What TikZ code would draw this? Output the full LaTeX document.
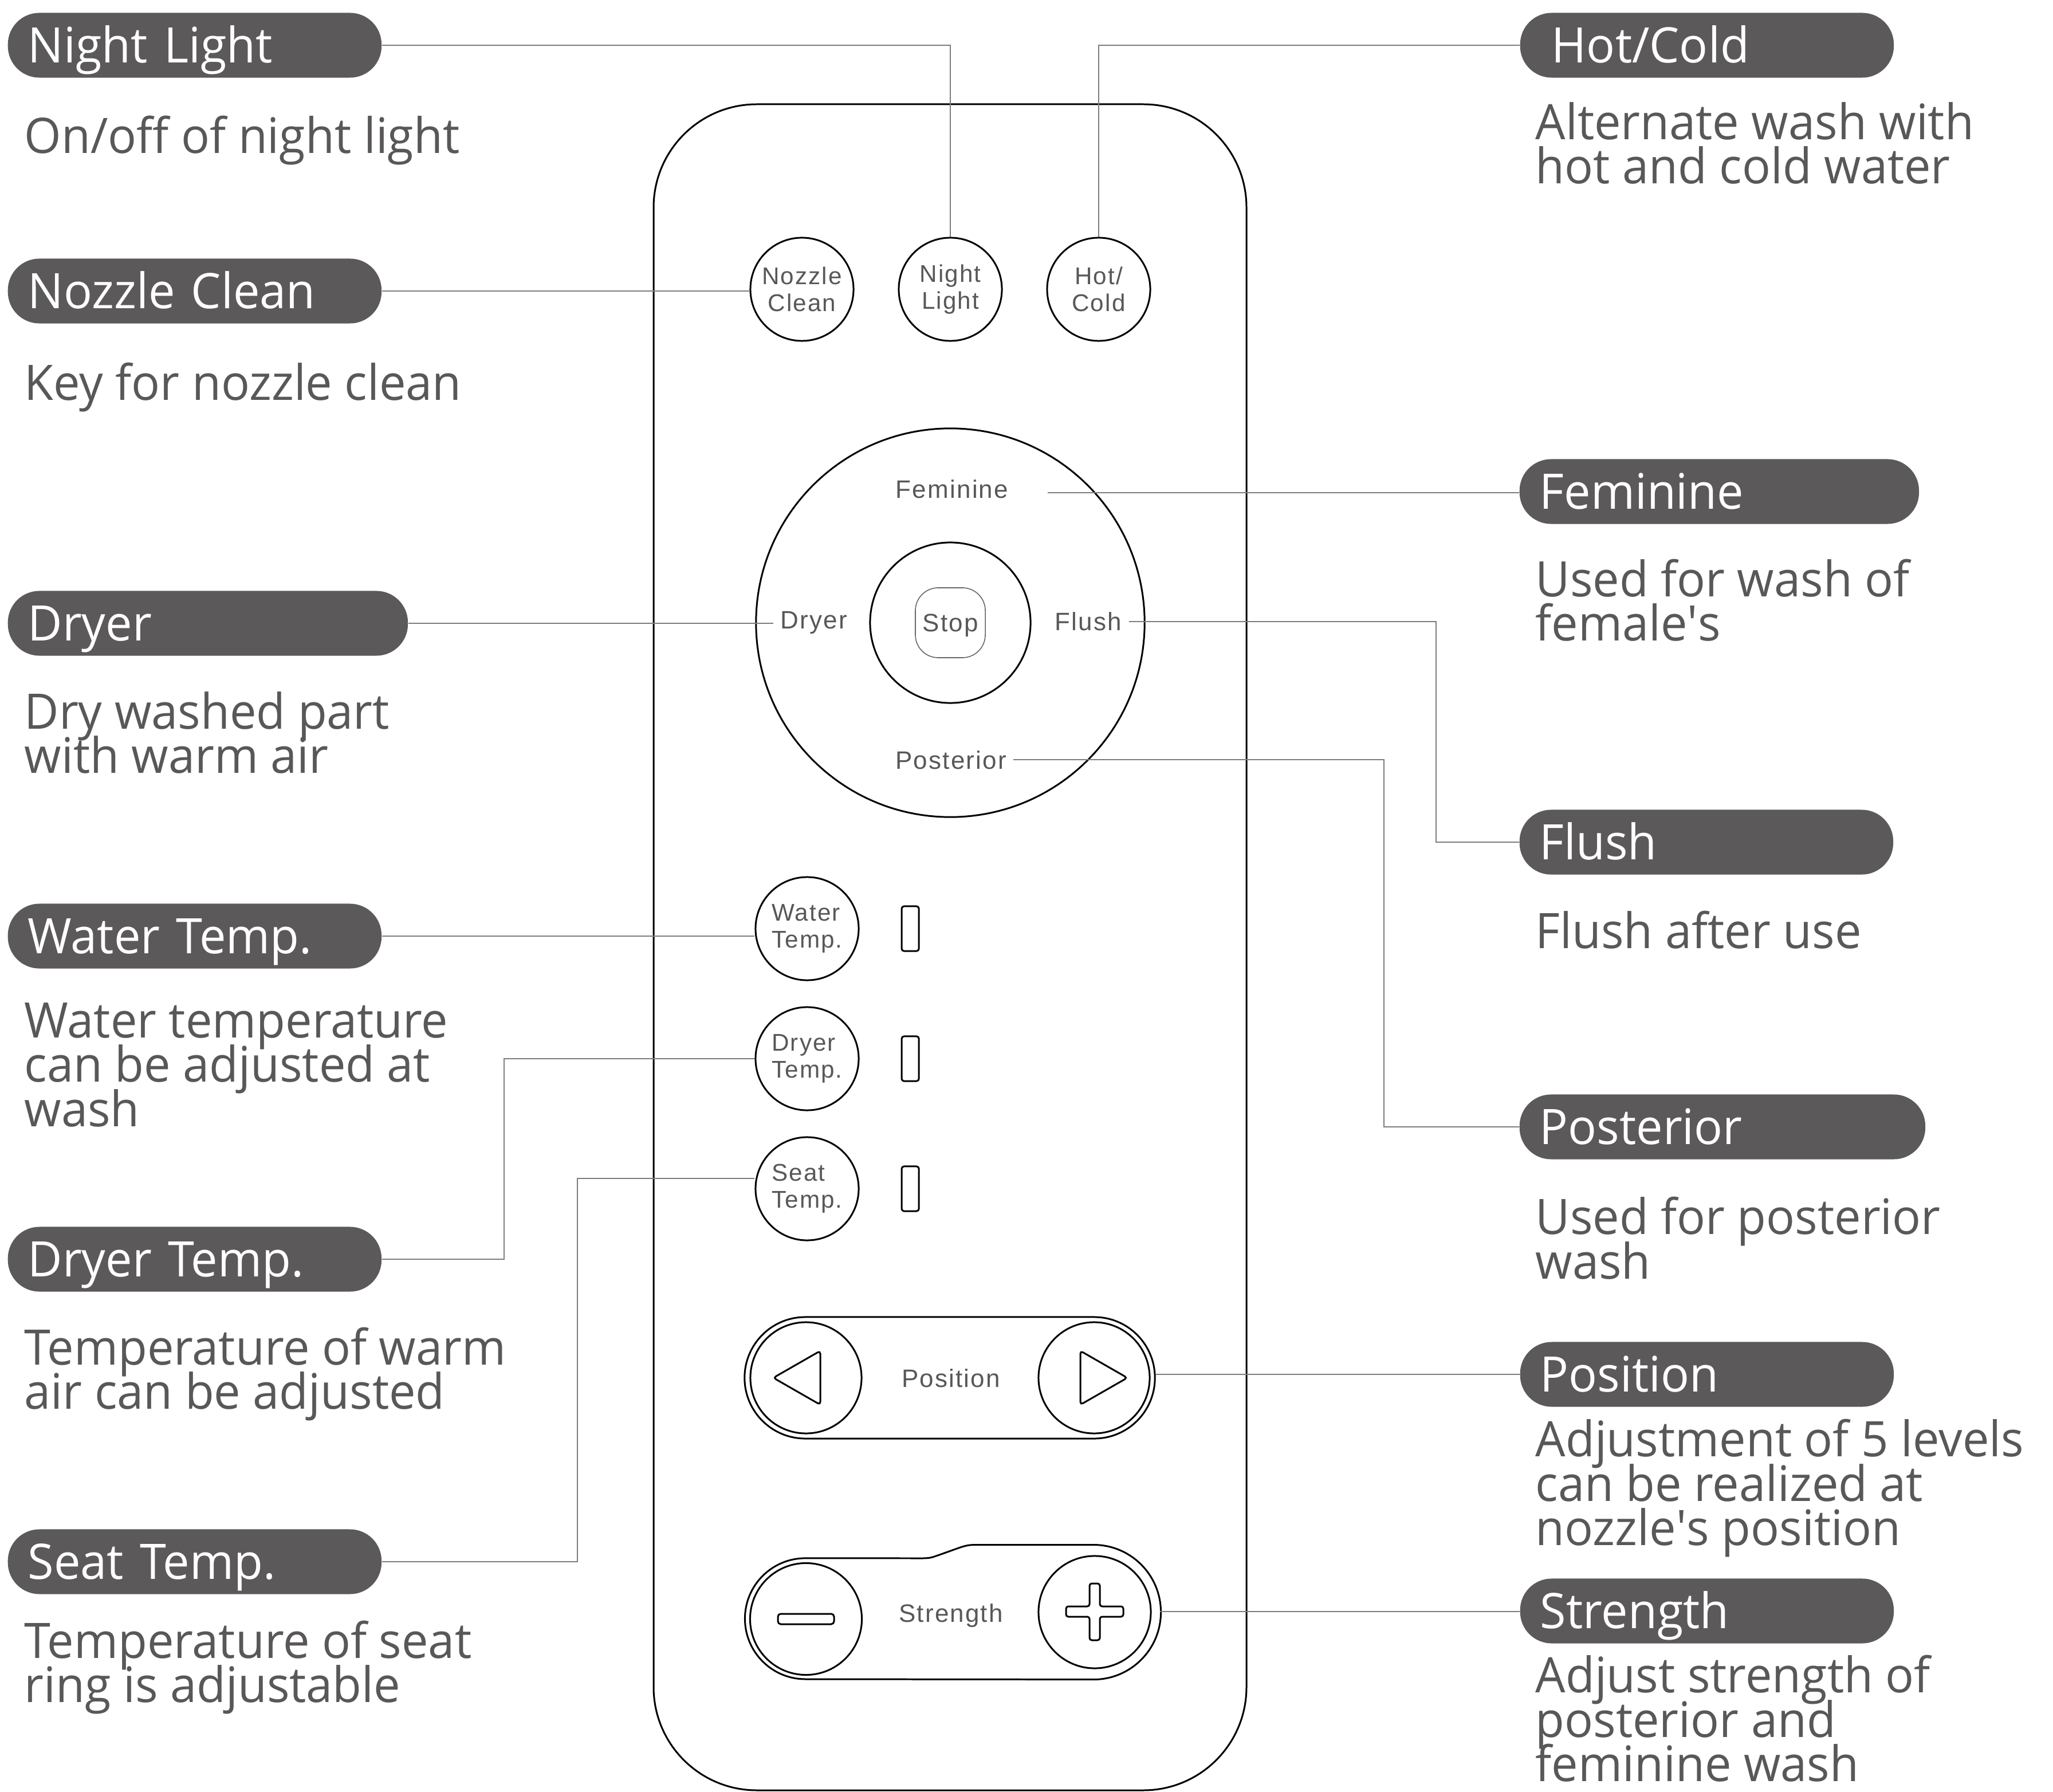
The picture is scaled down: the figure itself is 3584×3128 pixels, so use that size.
\documentclass[tikz,border=0pt]{standalone}
\usepackage{fontspec}
\setmainfont{Open Sans}
\newfontfamily\calloutfont[FakeStretch=0.97]{Open Sans}
\newfontfamily\keyfont[LetterSpace=5]{Liberation Sans}
\newcommand\descfont{\calloutfont\fontsize{24.3}{21.9}\selectfont\lineskiplimit=-50pt\relax}
\usetikzlibrary{positioning}
\definecolor{tagfill}{RGB}{91,89,90}
\definecolor{txtgray}{RGB}{89,87,87}
\definecolor{wiregray}{RGB}{125,125,125}

\tikzset{
  tag/.style={fill=tagfill, text=white, rounded corners=0.55cm, minimum height=1.13cm,
    inner xsep=0.35cm, inner ysep=0pt, text width=#1, align=left, anchor=west,
    font=\calloutfont\fontsize{24.3}{26}\selectfont, text height=0.61cm, text depth=0pt},
  tag/.default=5.82cm,
  desc/.style={anchor=base west, align=left, inner sep=0pt, text=txtgray, font=\descfont},
  key/.style={circle, draw, line width=0.85pt, minimum size=1.8cm, inner sep=0pt,
    text=txtgray, align=center, font=\keyfont\fontsize{12}{13.3}\selectfont},
  keylabel/.style={anchor=base, inner xsep=0.12cm, inner ysep=0pt, text=txtgray,
    text height=0.315cm, text depth=0pt, font=\keyfont\fontsize{12.5}{14}\selectfont},
  wire/.style={draw=wiregray, line width=0.55pt},
  outline/.style={draw, line width=0.85pt},
  led/.style={draw, line width=0.85pt, rounded corners=0.04cm, minimum width=0.3cm,
    minimum height=0.78cm, inner sep=0pt},
}

\begin{document}
\begin{tikzpicture}[x=0.01cm, y=-0.01cm]
  \fill[white] (0,0) rectangle (3584,3128);

  % remote body
  \draw[outline, rounded corners=1.8cm] (1141,182) rectangle (2176,3125);

  % top keys
  \node[key] (bNozzle) at (1400,505) {Nozzle\\Clean};
  \node[key] (bNight) at (1659,505) {Night\\Light};
  \node[key] (bHot) at (1918,505) {Hot/\\Cold};

  % wash ring
  \node[circle, outline, minimum size=6.78cm] (ring) at (1659,1087) {};
  \node[circle, outline, minimum size=2.8cm] (hub) at (1659,1087) {};
  \node[draw=black!60, line width=0.45pt, rounded corners=0.4cm, minimum size=1.22cm,
    inner sep=0pt, text=txtgray, text height=0.315cm, text depth=0pt,
    font=\keyfont\fontsize{12.5}{14}\selectfont] (bStop) at (1659,1087) {Stop};
  \node[keylabel] (lFem) at (1662,870) {Feminine};
  \node[keylabel] (lDryer) at (1421,1097) {Dryer};
  \node[keylabel] (lFlush) at (1900,1101) {Flush};
  \node[keylabel] (lPost) at (1660,1342) {Posterior};

  % temperature keys
  \node[key, align=left] (bWater) at (1409,1621) {Water\\Temp.};
  \node[key, align=left] (bDryerT) at (1409,1848) {Dryer\\Temp.};
  \node[key, align=left] (bSeat) at (1409,2075) {Seat\\Temp.};
  \node[led, right=0.72cm of bWater] (ledWater) {};
  \node[led, right=0.72cm of bDryerT] (ledDryer) {};
  \node[led, right=0.72cm of bSeat] (ledSeat) {};

  % position bar
  \node[outline, rounded corners=1.06cm, minimum width=7.16cm, minimum height=2.12cm] (posBar) at (1658,2405) {};
  \node[circle, outline, minimum size=1.94cm] (bLeft) at (1407,2405) {};
  \node[circle, outline, minimum size=1.94cm] (bRight) at (1910,2405) {};
  \draw[outline, rounded corners=0.05cm] (1350,2405) -- (1432,2358) -- (1432,2452) -- cycle;
  \draw[outline, rounded corners=0.05cm] (1968,2405) -- (1886,2358) -- (1886,2452) -- cycle;
  \node[keylabel] (lPos) at (1660,2421) {Position};

  % strength bar
  \draw[outline] (1406,2931) arc[start angle=270, end angle=90, radius=1.055cm]
    -- (1610,2720) .. controls (1625,2720) and (1628,2718) .. (1640,2714)
    -- (1675,2701.5) .. controls (1687,2697.5) and (1692,2696.5) .. (1705,2696.5)
    -- (1909,2696.5) arc[start angle=90, end angle=-90, radius=1.175cm] -- cycle;
  \node[circle, outline, minimum size=1.95cm] (bMinus) at (1407,2826) {};
  \node[circle, outline, minimum size=1.96cm] (bPlus) at (1911,2814) {};
  \draw[outline, rounded corners=0.05cm] (1358,2817) rectangle (1456,2835);
  \draw[outline, rounded corners=0.04cm] (1902,2764) -- (1920,2764) -- (1920,2804) -- (1961,2804)
    -- (1961,2822) -- (1920,2822) -- (1920,2863) -- (1902,2863) -- (1902,2822) -- (1861,2822)
    -- (1861,2804) -- (1902,2804) -- cycle;
  \node[keylabel] (lStr) at (1660,2831) {Strength};

  % left callouts (desc nodes sit on their last baseline)
  \node[tag] (tNight) at (13,79) {Night Light};
  \node[desc] (dNight) at (42,268) {On/off of night light};
  \node[tag] (tNozzle) at (13,508) {Nozzle Clean};
  \node[desc] (dNozzle) at (42,699) {Key for nozzle clean};
  \node[tag=6.28cm] (tDryer) at (13,1088) {Dryer};
  \node[desc] (dDryer) at (42,1350) {Dry washed part\\with warm air};
  \node[tag] (tWater) at (13,1634) {Water Temp.};
  \node[desc] (dWater) at (42,1966) {Water temperature\\can be adjusted at\\wash};
  \node[tag] (tDryerT) at (13,2198) {Dryer Temp.};
  \node[desc] (dDryerT) at (42,2459) {Temperature of warm\\air can be adjusted};
  \node[tag] (tSeat) at (13,2726) {Seat Temp.};
  \node[desc] (dSeat) at (42,2971) {Temperature of seat\\ring is adjustable};

  % right callouts
  \node[tag] (tHot) at (2653,79) {\hspace*{0.2cm}Hot/Cold};
  \node[desc] (dHot) at (2680,321) {Alternate wash with\\hot and cold water};
  \node[tag=6.27cm] (tFem) at (2652,858) {Feminine};
  \node[desc] (dFem) at (2680,1119) {Used for wash of\\female\textquotesingle s};
  \node[tag] (tFlush) at (2652,1470) {Flush};
  \node[desc] (dFlush) at (2680,1655) {Flush after use};
  \node[tag=6.38cm] (tPost) at (2652,1967) {Posterior};
  \node[desc] (dPost) at (2680,2232) {Used for posterior\\wash};
  \node[tag] (tPos) at (2653,2399) {Position};
  \node[desc] (dPos) at (2680,2697) {Adjustment of 5 levels\\can be realized at\\nozzle\textquotesingle s position};
  \node[tag] (tStr) at (2653,2812) {Strength};
  \node[desc] (dStr) at (2680,3109) {Adjust strength of\\posterior and\\feminine wash};

  % connectors
  \coordinate (femStart) at (1829,860);
  \coordinate (flushKnee) at (2507,1470);
  \coordinate (postKnee) at (2416,1967);
  \coordinate (dryerKnee) at (880,1848);
  \coordinate (seatKnee) at (1008,2057);
  \coordinate (strEnd) at (2025,2813);
  \draw[wire] (tNight.east) -| (bNight.north);
  \draw[wire] (tHot.west) -| (bHot.north);
  \draw[wire] (tNozzle.east) -- (tNozzle.east -| bNozzle.west);
  \draw[wire] (tDryer.east) -- (tDryer.east -| lDryer.west);
  \draw[wire] (femStart) -- (femStart -| tFem.west);
  \draw[wire] (lFlush.east) -| (flushKnee) -- (tFlush.west);
  \draw[wire] (lPost.east) -| (postKnee) -- (tPost.west);
  \draw[wire] (tWater.east) -- (tWater.east -| bWater.west);
  \draw[wire] (tDryerT.east) -| (dryerKnee) -- (bDryerT.west);
  \draw[wire] (tSeat.east) -| (seatKnee) -- (seatKnee -| bSeat.west);
  \draw[wire] (tPos.west -| posBar.east) -- (tPos.west);
  \draw[wire] (strEnd) -- (strEnd -| tStr.west);
\end{tikzpicture}
\end{document}
